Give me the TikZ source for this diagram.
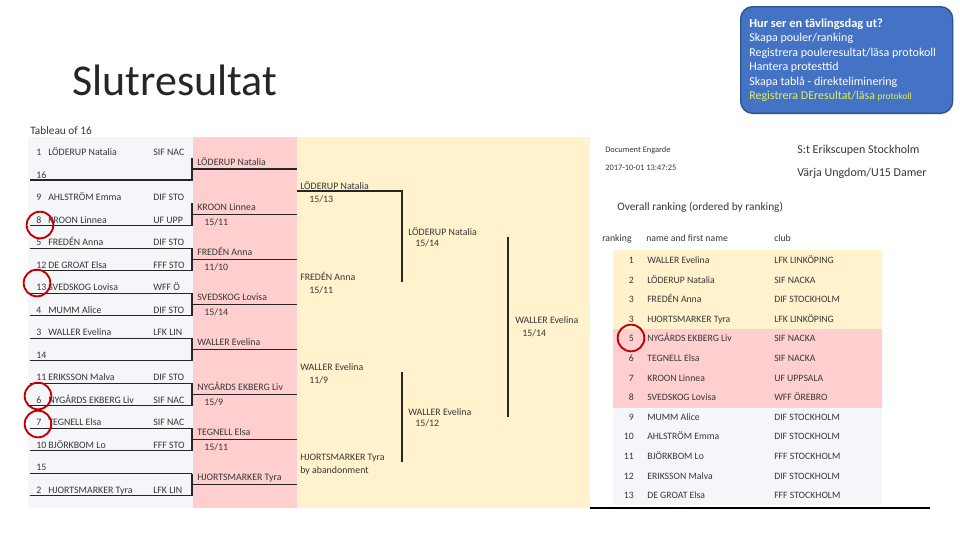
\documentclass[tikz,border=0pt]{standalone}
\usepackage{fontspec}
\setmainfont{Carlito}
\usepackage{xcolor}
\usetikzlibrary{positioning}
\definecolor{tabpink}{RGB}{255,207,207}
\definecolor{tabyellow}{RGB}{255,242,204}
\definecolor{tabgray}{RGB}{244,246,249}
\definecolor{boxblue}{RGB}{68,114,196}
\definecolor{boxedge}{RGB}{47,82,143}
\definecolor{ringred}{RGB}{192,0,0}
\definecolor{inkgray}{RGB}{55,55,55}
\definecolor{titlegray}{RGB}{38,38,38}
\definecolor{hilite}{RGB}{225,242,90}

\begin{document}
\begin{tikzpicture}[x=0.75pt,y=-0.75pt]
  \tikzset{lbl/.style = {inner sep=0pt, anchor=base west, text=inkgray, font=\fontsize{7.4}{8}\selectfont},
           rowtxt/.style = {lbl, font=\fontsize{7.3}{8}\selectfont},
           boxtxt/.style = {inner sep=0pt, anchor=base west, text=white, font=\fontsize{9}{11}\selectfont},
           bline/.style = {line width=0.8pt, draw=black!85},
           ring/.style = {draw=ringred, line width=1.4pt, circle, inner sep=0pt, minimum size=20pt}}
  \path[use as bounding box, fill=white] (0,0) rectangle (960,540);

  % title and info box
  \node[inner sep=0pt, anchor=west, text=titlegray, font=\fontsize{33}{36}\selectfont] (title) at (72,80) {Slutresultat};
  \node[draw=boxedge, fill=boxblue, line width=1pt, rounded corners=9pt, anchor=north west,
        minimum width=159pt, minimum height=80pt] (daybox) at (740,6) {};
  \node[boxtxt, font=\bfseries\fontsize{9.3}{11}\selectfont] (dayhead) at (749,27.5) {Hur ser en tävlingsdag ut?};
  \foreach \line [count=\i] in {Skapa pouler/ranking, Registrera pouleresultat/läsa protokoll, Hantera protesttid, Skapa tablå - direkteliminering}
    \node[boxtxt] (dayline\i) at (749,{27.5+14.4*\i}) {\line};
  \node[boxtxt, text=hilite] (dayline5) at (749,99.5) {Registrera DEresultat/läsa {\fontsize{7}{8}\selectfont protokoll}};

  % tableau
  \fill[tabgray] (28,137) rectangle (193,508);
  \fill[tabpink] (193,137) rectangle (297,508);
  \fill[tabyellow] (297,137) rectangle (590,508);
  \node[lbl, font=\fontsize{8.5}{10}\selectfont] (tabtitle) at (30,134) {Tableau of 16};
  \foreach \sd/\who/\club [count=\i from 0] in {1/LÖDERUP Natalia/SIF NAC, 16//, 9/AHLSTRÖM Emma/DIF STO,
      8/KROON Linnea/UF UPP, 5/FREDÉN Anna/DIF STO, 12/DE GROAT Elsa/FFF STO, 13/SVEDSKOG Lovisa/WFF Ö,
      4/MUMM Alice/DIF STO, 3/WALLER Evelina/LFK LIN, 14//, 11/ERIKSSON Malva/DIF STO,
      6/NYGÅRDS EKBERG Liv/SIF NAC, 7/TEGNELL Elsa/SIF NAC, 10/BJÖRKBOM Lo/FFF STO, 15//,
      2/HJORTSMARKER Tyra/LFK LIN}{
    \pgfmathsetmacro\yy{155.5+22.53*\i}
    \node[lbl] (seed\i) at (36,\yy) {\sd};
    \node[lbl] (fencer\i) at (48,\yy) {\who};
    \node[lbl] (club\i) at (153,\yy) {\club};
  }
  \foreach \k in {0,...,7}{
    \draw[bline] (30,{180+45.07*\k}) -- (192,{180+45.07*\k}) -- (192,{158+45.07*\k});
    \draw[bline] (192,{169+45.07*\k}) -- (297,{169+45.07*\k});
  }
  \foreach \k in {2,...,7}
    \draw[bline] (30,{158+45.07*\k}) -- (192,{158+45.07*\k});
  \foreach \who/\sc [count=\i from 0] in {LÖDERUP Natalia/, KROON Linnea/{15/11}, FREDÉN Anna/{11/10},
      SVEDSKOG Lovisa/{15/14}, WALLER Evelina/, NYGÅRDS EKBERG Liv/{15/9}, TEGNELL Elsa/{15/11},
      HJORTSMARKER Tyra/}{
    \pgfmathsetmacro\yy{169+45.07*\i}
    \node[lbl] (firstwin\i) at (197,{\yy-3.5}) {\who};
    \node[lbl] (firstsc\i) at (204,{\yy+11.5}) {\sc};
  }

  % later rounds
  \draw[bline] (297,191) -- (402,191) -- (402,282);
  \draw[bline] (402,372) -- (402,462);
  \draw[bline] (508,237) -- (508,417);
  \node[lbl] (quarter1) at (300,189.5) {LÖDERUP Natalia};
  \node[lbl] (quarter1sc) at (309,202) {15/13};
  \node[lbl] (quarter2) at (300,280) {FREDÉN Anna};
  \node[lbl] (quarter2sc) at (309,293) {15/11};
  \node[lbl] (quarter3) at (300,370.5) {WALLER Evelina};
  \node[lbl] (quarter3sc) at (309,383.5) {11/9};
  \node[lbl] (quarter4) at (300,460) {HJORTSMARKER Tyra};
  \node[lbl] (quarter4sc) at (300,473) {by abandonment};
  \node[lbl] (semi1) at (408,235.5) {LÖDERUP Natalia};
  \node[lbl] (semi1sc) at (415,246.5) {15/14};
  \node[lbl] (semi2) at (408,415.5) {WALLER Evelina};
  \node[lbl] (semi2sc) at (415,426.5) {15/12};
  \node[lbl] (final) at (515,323.5) {WALLER Evelina};
  \node[lbl] (finalsc) at (522,336.5) {15/14};

  % ranking
  \node[lbl, font=\fontsize{6.3}{7}\selectfont] (engarde) at (605,152) {Document Engarde};
  \node[lbl, font=\fontsize{6.3}{7}\selectfont] (stamp) at (605,170) {2017-10-01 13:47:25};
  \node[lbl, font=\fontsize{9}{10}\selectfont] (event) at (797,153) {S:t Erikscupen Stockholm};
  \node[lbl, font=\fontsize{9}{10}\selectfont] (category) at (797,176) {Värja Ungdom/U15 Damer};
  \node[lbl, font=\fontsize{8.5}{9}\selectfont] (overall) at (617,210) {Overall ranking (ordered by ranking)};
  \node[rowtxt] (headrank) at (602,241) {ranking};
  \node[rowtxt] (headname) at (646,241) {name and first name};
  \node[rowtxt] (headclub) at (774,241) {club};
  \fill[tabyellow] (613,250) rectangle (882,329);
  \fill[tabpink] (613,329) rectangle (882,408);
  \fill[tabgray] (613,408) rectangle (882,505);
  \foreach \rk/\who/\club [count=\i from 0] in {1/WALLER Evelina/LFK LINKÖPING, 2/LÖDERUP Natalia/SIF NACKA,
      3/FREDÉN Anna/DIF STOCKHOLM, 3/HJORTSMARKER Tyra/LFK LINKÖPING, 5/NYGÅRDS EKBERG Liv/SIF NACKA,
      6/TEGNELL Elsa/SIF NACKA, 7/KROON Linnea/UF UPPSALA, 8/SVEDSKOG Lovisa/WFF ÖREBRO,
      9/MUMM Alice/DIF STOCKHOLM, 10/AHLSTRÖM Emma/DIF STOCKHOLM, 11/BJÖRKBOM Lo/FFF STOCKHOLM,
      12/ERIKSSON Malva/DIF STOCKHOLM, 13/DE GROAT Elsa/FFF STOCKHOLM}{
    \pgfmathsetmacro\yy{263.5+19.6*\i}
    \node[rowtxt, anchor=base east] (rank\i) at (634,\yy) {\rk};
    \node[rowtxt] (rname\i) at (647,\yy) {\who};
    \node[rowtxt] (rclub\i) at (774,\yy) {\club};
  }
  \draw[line width=0.8pt] (590,508) -- (930,508);

  % red marks
  \node[ring] (mark1) at (40,225) {};
  \node[ring] (mark2) at (37,283) {};
  \node[ring] (mark3) at (38,396) {};
  \node[ring] (mark4) at (38,424) {};
  \node[ring] (mark5) at (631,338) {};
\end{tikzpicture}
\end{document}
